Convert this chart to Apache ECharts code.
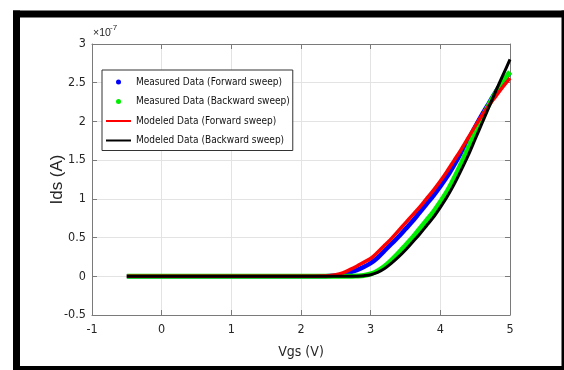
<!DOCTYPE html>
<html>
<head>
<meta charset="utf-8">
<script src="https://cdn.jsdelivr.net/npm/echarts@6/dist/echarts.min.js"></script>
<style>
html,body{margin:0;padding:0;background:#fff;}
#c{width:564px;height:370px;}
</style>
</head>
<body>
<div id="c"></div>
<script>
// Vgs (V) sample positions
var vgs = [-0.5, 0, 0.5, 1, 1.5, 2, 2.1, 2.2, 2.3, 2.4, 2.5, 2.6, 2.7, 2.8, 2.9, 3.0,
  3.1, 3.2, 3.3, 3.4, 3.5, 3.6, 3.7, 3.8, 3.9, 4.0, 4.1, 4.2, 4.3, 4.4, 4.5, 4.6, 4.7, 4.8, 4.9, 5.0];
// Ids in units of 1e-7 A
var measuredFwd = [0, 0, 0, 0, 0, 0, 0, 0, 0.001, 0.004, 0.01, 0.025, 0.05, 0.08, 0.12, 0.17,
  0.24, 0.33, 0.42, 0.51, 0.61, 0.71, 0.82, 0.93, 1.04, 1.16, 1.29, 1.44, 1.60, 1.76, 1.93, 2.09, 2.24, 2.39, 2.52, 2.63];
var measuredBwd = [0, 0, 0, 0, 0, 0, 0, 0, 0, 0, 0, 0, 0, 0.004, 0.01, 0.03,
  0.07, 0.13, 0.21, 0.30, 0.40, 0.50, 0.61, 0.72, 0.83, 0.96, 1.10, 1.27, 1.46, 1.66, 1.86, 2.05, 2.22, 2.38, 2.52, 2.64];
var modeledFwd = [0, 0, 0, 0, 0, 0, 0, 0.001, 0.003, 0.008, 0.02, 0.045, 0.085, 0.13, 0.18, 0.23,
  0.31, 0.40, 0.49, 0.59, 0.69, 0.79, 0.89, 1.00, 1.11, 1.23, 1.36, 1.50, 1.64, 1.79, 1.94, 2.08, 2.21, 2.33, 2.45, 2.56];
var modeledBwd = [0, 0, 0, 0, 0, 0, 0, 0, 0, 0, 0, 0, 0, 0.002, 0.008, 0.02,
  0.05, 0.10, 0.17, 0.25, 0.34, 0.44, 0.54, 0.65, 0.76, 0.89, 1.03, 1.19, 1.37, 1.56, 1.77, 1.98, 2.19, 2.40, 2.60, 2.80];

var xTicks = [-1, 0, 1, 2, 3, 4, 5];
var yTicks = [-0.5, 0, 0.5, 1, 1.5, 2, 2.5, 3];
var seriesNames = ['Measured Data (Forward sweep)', 'Measured Data (Backward sweep)',
  'Modeled Data (Forward sweep)', 'Modeled Data (Backward sweep)'];
var xTitle = 'Vgs (V)';
var yTitle = 'Ids (A)';
var expBase = '\u00d710';
var expPow = '-7';

function pairs(ys) { return vgs.map(function (x, i) { return [x, ys[i]]; }); }

var FONT = "'DejaVu Sans Condensed', 'Liberation Sans', sans-serif";
var AX = '#7a7a7a';
var TXT = '#262626';

var chart = echarts.init(document.getElementById('c'), null, {renderer: 'canvas'});
var xStep = xTicks[1] - xTicks[0];
var yStep = yTicks[1] - yTicks[0];
var baseX = {
  type: 'value', min: xTicks[0], max: xTicks[xTicks.length - 1], interval: xStep,
  axisLine: {show: true, onZero: false, lineStyle: {color: AX, width: 1}},
  axisTick: {show: true, inside: true, length: 5, lineStyle: {color: AX}},
  splitLine: {show: false}
};
var baseY = {
  type: 'value', min: yTicks[0], max: yTicks[yTicks.length - 1], interval: yStep,
  axisLine: {show: true, onZero: false, lineStyle: {color: AX, width: 1}},
  axisTick: {show: true, inside: true, length: 5, lineStyle: {color: AX}},
  splitLine: {show: false}
};

var option = {
  animation: false,
  backgroundColor: '#fff',
  grid: {left: 92, right: 54, top: 44, bottom: 55, containLabel: false},
  xAxis: [
    Object.assign({}, baseX, {
      position: 'bottom',
      axisLabel: {show: true, margin: 8, color: TXT, fontSize: 12.5, fontFamily: FONT},
      splitLine: {show: true, lineStyle: {color: '#e3e3e3', width: 1}},
      name: xTitle, nameLocation: 'middle', nameGap: 30, nameMoveOverlap: false,
      nameTextStyle: {color: TXT, fontSize: 14, fontFamily: FONT}
    }),
    Object.assign({}, baseX, {position: 'top', axisLabel: {show: false}})
  ],
  yAxis: [
    Object.assign({}, baseY, {
      position: 'left',
      axisLabel: {show: true, margin: 6, color: TXT, fontSize: 12.5, fontFamily: FONT},
      splitLine: {show: true, lineStyle: {color: '#e3e3e3', width: 1}},
      name: yTitle, nameLocation: 'middle', nameGap: 26, nameMoveOverlap: false,
      nameTextStyle: {color: TXT, fontSize: 17, fontFamily: "'Liberation Sans', sans-serif"}
    }),
    Object.assign({}, baseY, {position: 'right', axisLabel: {show: false}})
  ],
  legend: {
    orient: 'vertical', left: 102, top: 70,
    padding: [5, 3, 3, 3],
    itemWidth: 25, itemHeight: 5, itemGap: 5.5, itemTextGap: 3,
    backgroundColor: '#fff', borderColor: '#333', borderWidth: 1,
    textStyle: {color: '#111', fontSize: 10, lineHeight: 14, fontFamily: FONT},
    data: [
      {name: seriesNames[0], icon: 'circle'},
      {name: seriesNames[1], icon: 'circle'},
      {name: seriesNames[2], itemStyle: {opacity: 0}},
      {name: seriesNames[3], itemStyle: {opacity: 0}}
    ]
  },
  series: [
    {name: seriesNames[0], type: 'line', data: pairs(measuredFwd), smooth: 0.3,
      symbol: 'circle', showSymbol: false, color: '#0000ff', lineStyle: {width: 4.5, color: '#0000ff'}},
    {name: seriesNames[1], type: 'line', data: pairs(measuredBwd), smooth: 0.3,
      symbol: 'circle', showSymbol: false, color: '#00ee00', lineStyle: {width: 5, color: '#00ee00'}},
    {name: seriesNames[2], type: 'line', data: pairs(modeledFwd), smooth: 0.3,
      symbol: 'none', color: '#ff0000', lineStyle: {width: 3.5, color: '#ff0000'}},
    {name: seriesNames[3], type: 'line', data: pairs(modeledBwd), smooth: 0.3,
      symbol: 'none', color: '#000000', lineStyle: {width: 3, color: '#000000'}}
  ],
  graphic: [
    {type: 'text', left: 93, top: 28, style: {text: expBase, fill: TXT, fontSize: 10.5, fontFamily: "'Liberation Sans', sans-serif"}},
    {type: 'text', left: 110, top: 24, style: {text: expPow, fill: TXT, fontSize: 8, fontFamily: "'Liberation Sans', sans-serif"}},
    {type: 'rect', shape: {x: 13, y: 10.5, width: 7, height: 360}, style: {fill: '#000'}},
    {type: 'rect', shape: {x: 13, y: 10.5, width: 551, height: 7}, style: {fill: '#000'}},
    {type: 'rect', shape: {x: 561.5, y: 10.5, width: 3, height: 360}, style: {fill: '#000'}},
    {type: 'rect', shape: {x: 13, y: 366, width: 551, height: 4}, style: {fill: '#000'}}
  ]
};
chart.setOption(option);
</script>
</body>
</html>
